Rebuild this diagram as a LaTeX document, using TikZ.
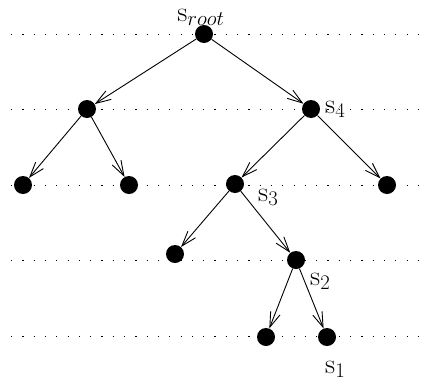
\documentclass[tikz,border=0pt]{standalone}
\usetikzlibrary{arrows.meta}
\begin{document}
\begin{tikzpicture}[x=1pt,y=-1pt,
  dotnode/.style={circle,fill=black,inner sep=0pt,minimum size=18pt},
  lbl/.style={inner sep=0pt,font=\fontsize{28}{32}\selectfont},
  edge/.style={line width=0.9pt,-{Straight Barb[length=15pt,width=10pt,line width=0.9pt]}},
  level/.style={line width=0.9pt,dash pattern=on 1.2pt off 10.1pt}]
\useasboundingbox (0,0) rectangle (425,383);
% dotted level lines
\coordinate (l1a) at (11,34);  \coordinate (l1b) at (418,34);
\coordinate (l2a) at (11,109.5); \coordinate (l2b) at (418,109.5);
\coordinate (l3a) at (11,185); \coordinate (l3b) at (418,185);
\coordinate (l4a) at (11,260.5); \coordinate (l4b) at (418,260.5);
\coordinate (l5a) at (11,336.5); \coordinate (l5b) at (418,336.5);
\foreach \i in {1,...,5} {\draw[level] (l\i a) -- (l\i b);}
% nodes
\node[dotnode] (root) at (204,34) {};
\node[dotnode] (a) at (87,109) {};
\node[dotnode] (s4) at (311,109) {};
\node[dotnode] (b) at (23,185) {};
\node[dotnode] (c) at (129,185) {};
\node[dotnode] (s3) at (235,184) {};
\node[dotnode] (d) at (387,185) {};
\node[dotnode] (e) at (175,254) {};
\node[dotnode] (s2) at (296,260) {};
\node[dotnode] (f) at (266,337) {};
\node[dotnode] (s1) at (327,337) {};
% edges
\draw[edge] (root) -- (a);
\draw[edge] (root) -- (s4);
\draw[edge] (a) -- (b);
\draw[edge] (a) -- (c);
\draw[edge] (s4) -- (s3);
\draw[edge] (s4) -- (d);
\draw[edge] (s3) -- (e);
\draw[edge] (s3) -- (s2);
\draw[edge] (s2) -- (f);
\draw[edge] (s2) -- (s1);
% labels
\node[lbl,anchor=base] (lroot) at (201,21) {s$_{root}$};
\node[lbl,anchor=base west] (l4) at (325,113) {s$_4$};
\node[lbl,anchor=base west] (l3) at (258,201) {s$_3$};
\node[lbl,anchor=base west] (l2) at (310,285) {s$_2$};
\node[lbl,anchor=base west] (l1) at (325,373) {s$_1$};
\end{tikzpicture}
\end{document}
